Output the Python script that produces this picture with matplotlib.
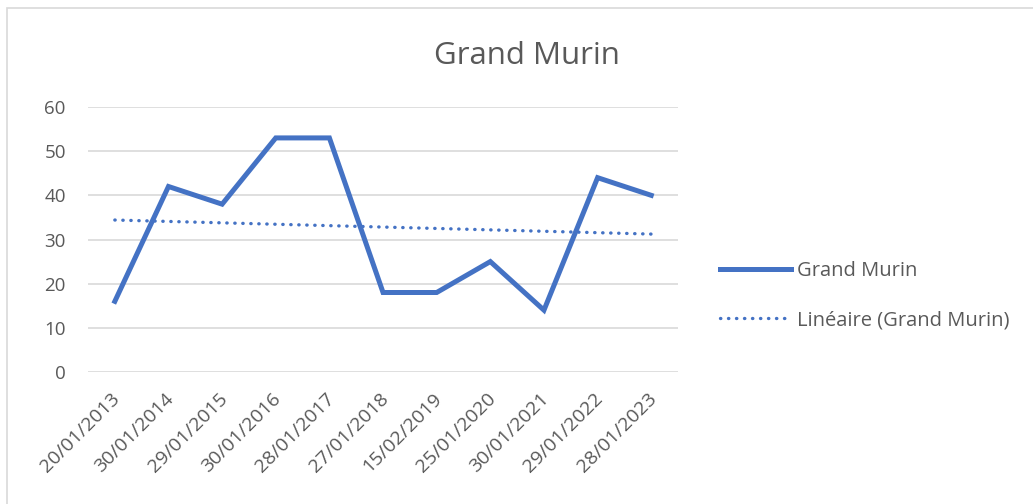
import numpy as np
import matplotlib.pyplot as plt
import matplotlib.transforms as mtransforms
from matplotlib.patches import Rectangle

# data
dates = ['20/01/2013', '30/01/2014', '29/01/2015', '30/01/2016', '28/01/2017',
         '27/01/2018', '15/02/2019', '25/01/2020', '30/01/2021', '29/01/2022',
         '28/01/2023']
counts = [16, 42, 38, 53, 53, 18, 18, 25, 14, 44, 40]

blue = '#4472C4'
grey_txt = '#595959'
plt.rcParams['font.family'] = ['Open Sans', 'DejaVu Sans']

fig = plt.figure(figsize=(10.33, 5.04), dpi=100)
ax = fig.add_axes([0.0852, 0.2619, 0.5712, 0.5258])

x = np.arange(len(dates))
# linear trend (like Excel's "Linéaire")
slope, icpt = np.polyfit(x, counts, 1)
trend = slope * x + icpt

ax.plot(x, counts, color=blue, lw=3.6, solid_joinstyle='miter', label='Grand Murin', zorder=3)
ax.plot(x, trend, color=blue, lw=2.4, linestyle=(0, (0.1, 2.3)), dash_capstyle='round',
        label='Linéaire (Grand Murin)', zorder=3)

ax.set_xlim(-0.5, len(dates) - 0.5)
ax.set_ylim(0, 60)
ax.set_yticks(range(0, 61, 10))
ax.set_xticks(x)
ax.set_xticklabels(dates, rotation=45, ha='right', va='top', rotation_mode='anchor', fontsize=14)
ax.grid(axis='y', color='#D9D9D9', lw=1.2)
ax.set_axisbelow(True)
for s in ax.spines.values():
    s.set_visible(False)
ax.tick_params(length=0, labelsize=13.5, colors=grey_txt)
ax.tick_params(axis='x', labelsize=14)
ax.tick_params(axis='y', pad=16)
ax.tick_params(axis='x', pad=13)

# nudge rotated labels a bit to the left
shift = mtransforms.ScaledTranslation(-4 / 100, 0, fig.dpi_scale_trans)
for lab in ax.get_xticklabels():
    lab.set_transform(lab.get_transform() + shift)

fig.text(0.51, 0.888, 'Grand Murin', ha='center', va='center', fontsize=22.5, color=grey_txt)

leg = ax.legend(loc='center left', bbox_to_anchor=(1.041, 0.287), frameon=False,
                fontsize=14.5, handlelength=3.5, handletextpad=0.3, labelspacing=1.45)
for t in leg.get_texts():
    t.set_color(grey_txt)

# chart border
fig.patches.append(Rectangle((7 / 1033, -0.1), 1.1, 1 - 8 / 504 + 0.1, transform=fig.transFigure,
                             fill=False, edgecolor='#D9D9D9', lw=1.2))

fig.savefig('out.png', dpi=100)
